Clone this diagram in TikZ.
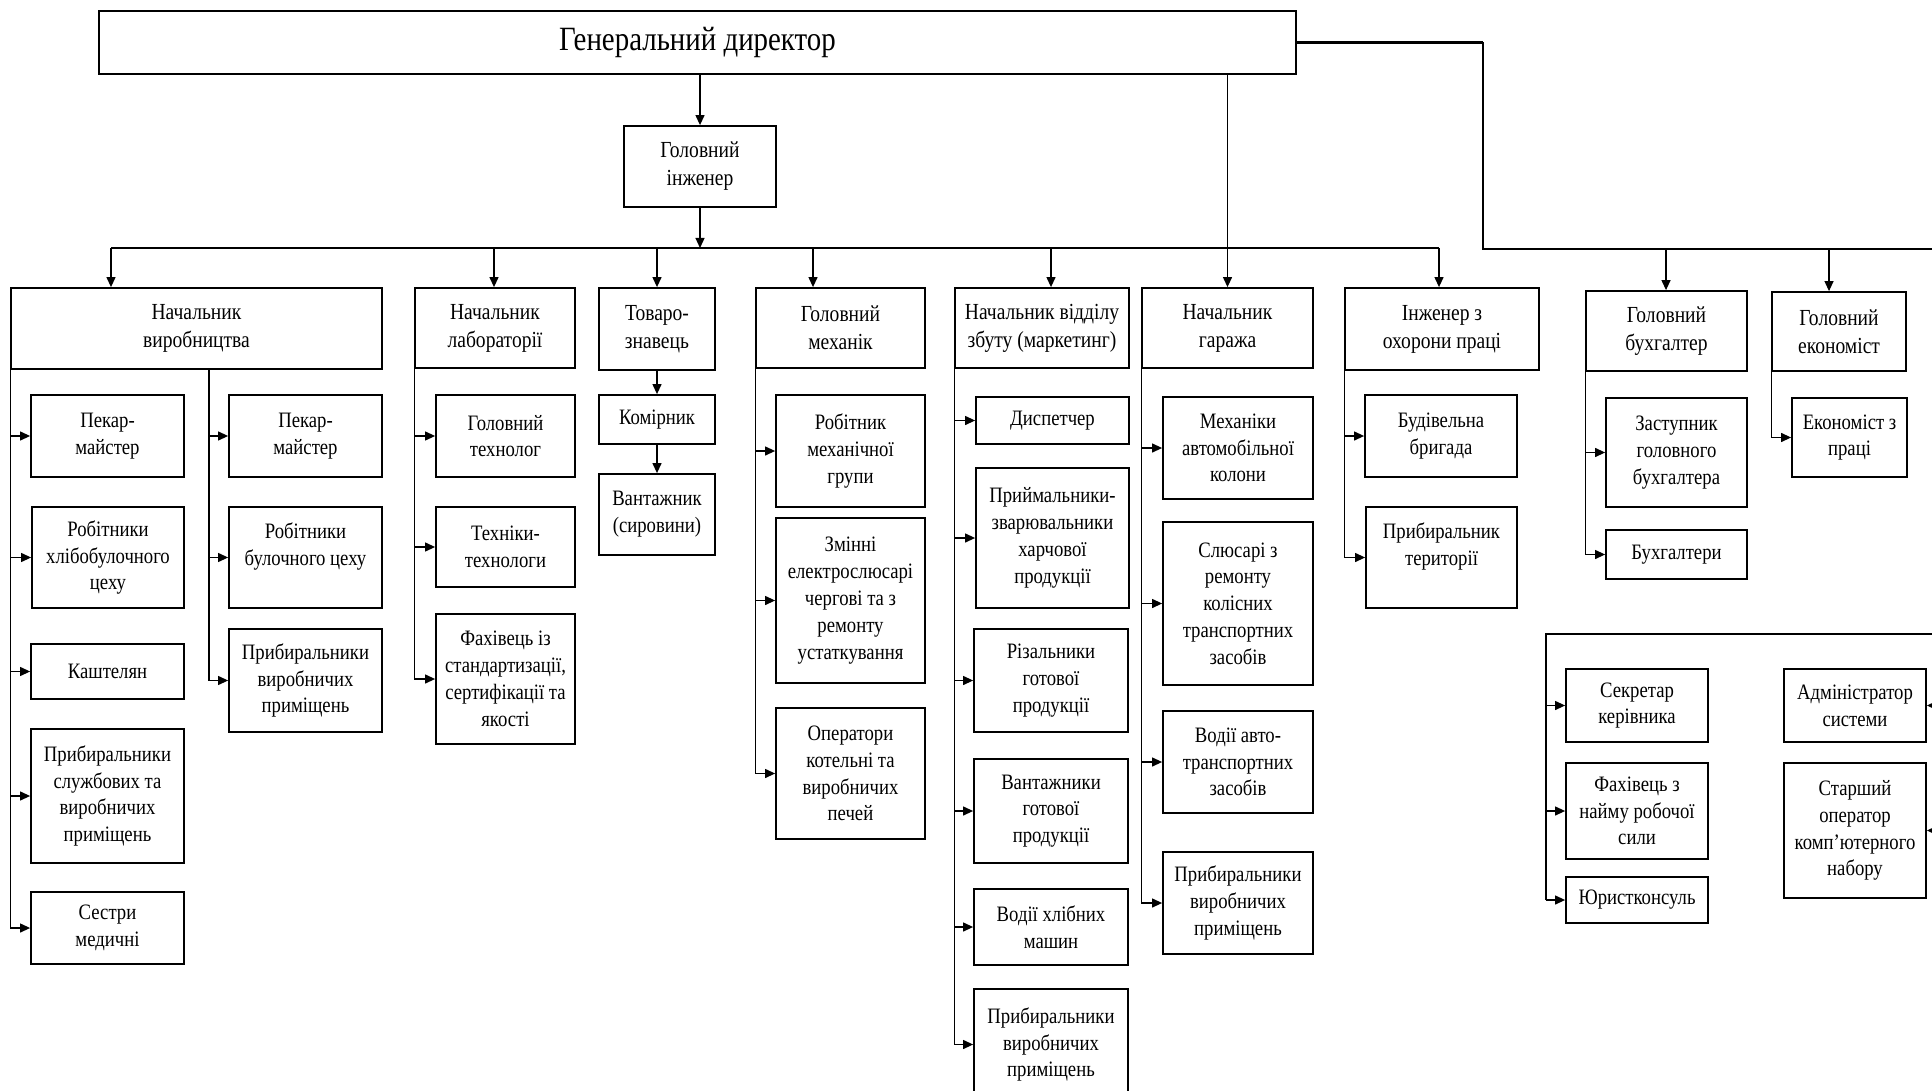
\documentclass[tikz,border=0pt]{standalone}
\usepackage{fontspec}
\setmainfont{Liberation Serif}[FakeStretch=0.85]
\usetikzlibrary{arrows.meta}
\newcommand\fsub{\fontsize{11}{13.4}\selectfont}
\newcommand\fone{\fontsize{11.5}{14}\selectfont}
\newcommand\ftop{\fontsize{17}{20}\selectfont}
\tikzset{
  box/.style={draw, line width=0.9pt, align=center, inner sep=0pt, font=\fsub},
  topbox/.style={box, font=\fone},
  rect/.style n args={4}{minimum width={((#3)-(#1))*0.5pt}, minimum height={((#4)-(#2))*0.5pt},
     at={({((#1)+(#3))/2},{((#2)+(#4))/2})}},
  conn/.style={line width=0.6pt},
  arr/.style={conn, -{Triangle[length=5pt,width=4.5pt]}},
  busline/.style={line width=1.2pt},
}
\begin{document}
\begin{tikzpicture}[x=0.5pt,y=-0.5pt]
\fill[white] (0,0) rectangle (1932,1091);
\useasboundingbox (0,0) rectangle (1932,1091);

% top level
\node[box, font=\ftop, rect={99}{11}{1296}{74}] (gd) {Генеральний директор};
\node[topbox, rect={624}{126}{776}{207}] (gi) {Головний\\інженер};

% level 1
\node[topbox, rect={11}{288}{382}{369}] (n1) {Начальник\\виробництва};
\node[topbox, rect={415}{288}{575}{368}] (n2) {Начальник\\лабораторії};
\node[topbox, rect={599}{288}{715}{370}] (n3) {Товаро-\\знавець};
\node[topbox, rect={756}{288}{925}{368}] (n4) {Головний\\механік};
\node[topbox, rect={955}{288}{1129}{368}] (n5) {Начальник відділу\\збуту (маркетинг)};
\node[topbox, rect={1142}{288}{1313}{368}] (n6) {Начальник\\гаража};
\node[topbox, rect={1345}{288}{1539}{370}] (n7) {Інженер з\\охорони праці};
\node[topbox, rect={1586}{291}{1747}{371}] (n8) {Головний\\бухгалтер};
\node[topbox, rect={1772}{292}{1906}{371}] (n9) {Головний\\економіст};

% column n1 (left)
\node[box, rect={31}{395}{184}{477}] (a1) {Пекар-\\майстер};
\node[box, rect={32}{507}{184}{608}] (a2) {Робітники\\хлібобулочного\\цеху};
\node[box, rect={31}{644}{184}{699}] (a3) {Каштелян};
\node[box, rect={31}{729}{184}{863}] (a4) {Прибиральники\\службових та\\виробничих\\приміщень};
\node[box, rect={31}{892}{184}{964}] (a5) {Сестри\\медичні};
% column n1 (right)
\node[box, rect={229}{395}{382}{477}] (b1) {Пекар-\\майстер};
\node[box, rect={229}{507}{382}{608}] (b2) {Робітники\\булочного цеху\\\mbox{}};
\node[box, rect={229}{629}{382}{732}] (b3) {Прибиральники\\виробничих\\приміщень};
% column n2
\node[box, rect={436}{395}{575}{477}] (c1) {Головний\\технолог};
\node[box, rect={436}{507}{575}{587}] (c2) {Техніки-\\технологи};
\node[box, rect={436}{614}{575}{744}] (c3) {Фахівець із\\стандартизації,\\сертифікації та\\якості};
% column n3
\node[box, rect={599}{395}{715}{444}] (d1) {Комірник};
\node[box, rect={599}{474}{715}{555}] (d2) {Вантажник\\(сировини)};
% column n4
\node[box, rect={776}{395}{925}{507}] (e1) {Робітник\\механічної\\групи};
\node[box, rect={776}{518}{925}{683}] (e2) {Змінні\\електрослюсарі\\чергові та з\\ремонту\\устаткування};
\node[box, rect={776}{708}{925}{839}] (e3) {Оператори\\котельні та\\виробничих\\печей};
% column n5
\node[box, rect={976}{397}{1129}{444}] (f1) {Диспетчер};
\node[box, rect={976}{468}{1129}{608}] (f2) {Приймальники-\\зварювальники\\харчової\\продукції};
\node[box, rect={974}{629}{1128}{732}] (f3) {Різальники\\готової\\продукції};
\node[box, rect={974}{759}{1128}{863}] (f4) {Вантажники\\готової\\продукції};
\node[box, rect={974}{889}{1128}{965}] (f5) {Водії хлібних\\машин};
\node[box, rect={974}{989}{1128}{1100}] (f6) {Прибиральники\\виробничих\\приміщень};
% column n6
\node[box, rect={1163}{397}{1313}{499}] (g1) {Механіки\\автомобільної\\колони};
\node[box, rect={1163}{522}{1313}{685}] (g2) {Слюсарі з\\ремонту\\колісних\\транспортних\\засобів};
\node[box, rect={1163}{711}{1313}{813}] (g3) {Водії авто-\\транспортних\\засобів};
\node[box, rect={1163}{852}{1313}{954}] (g4) {Прибиральники\\виробничих\\приміщень};
% column n7
\node[box, rect={1365}{395}{1517}{477}] (h1) {Будівельна\\бригада};
\node[box, rect={1366}{507}{1517}{608}] (h2) {Прибиральник\\території\\\mbox{}};
% column n8
\node[box, rect={1606}{398}{1747}{507}] (i1) {Заступник\\головного\\бухгалтера};
\node[box, rect={1606}{530}{1747}{579}] (i2) {Бухгалтери};
% column n9
\node[box, rect={1792}{398}{1907}{477}] (j1) {Економіст з\\праці};
% bottom right group
\node[box, rect={1566}{669}{1708}{742}] (k1) {Секретар\\керівника};
\node[box, rect={1566}{763}{1708}{859}] (k2) {Фахівець з\\найму робочої\\сили};
\node[box, rect={1566}{877}{1708}{923}] (k3) {Юристконсуль};
\node[box, rect={1784}{669}{1926}{742}] (l1) {Адміністратор\\системи};
\node[box, rect={1784}{763}{1926}{898}] (l2) {Старший\\оператор\\комп’ютерного\\набору};

% ---- connectors from the top
\draw[arr] (gd.south -| gi.north) -- (gi.north);
\coordinate (t1) at (111,248);
\coordinate (t2) at (494,248);
\coordinate (t3) at (657,248);
\coordinate (t4) at (813,248);
\coordinate (t5) at (1051,248);
\coordinate (t7) at (1439,248);
\draw[busline] (t1) -- (t7);
\draw[arr] (gi.south) -- (gi.south |- t1);
\foreach \t/\n in {t1/n1,t2/n2,t3/n3,t4/n4,t5/n5,t7/n7}
  \draw[arr] (\t) -- (\t |- \n.north);
\draw[arr] (gd.south -| n6.north) -- (n6.north);

\coordinate (rc) at (1483,249);
\coordinate (re) at (1950,249);
\coordinate (u8) at (1666,249);
\coordinate (u9) at (1829,249);
\draw[busline] (gd.east) -- (gd.east -| rc);
\draw[conn] (gd.east -| rc) -- (rc) -- (re);
\draw[arr] (u8) -- (u8 |- n8.north);
\draw[arr] (u9) -- (u9 |- n9.north);

% ---- column spines
\draw[conn] (n1.south west) -- (n1.south west |- a5.west);
\foreach \c in {a1,a2,a3,a4,a5} \draw[arr] (n1.south west |- \c.west) -- (\c.west);
\coordinate (s1) at (209,369);
\draw[conn] (s1) -- (s1 |- b3.west);
\foreach \c in {b1,b2,b3} \draw[arr] (s1 |- \c.west) -- (\c.west);
\draw[conn] (n2.south west) -- (n2.south west |- c3.west);
\foreach \c in {c1,c2,c3} \draw[arr] (n2.south west |- \c.west) -- (\c.west);
\draw[arr] (n3.south) -- (d1.north);
\draw[arr] (d1.south) -- (d2.north);
\draw[conn] (n4.south west) -- (n4.south west |- e3.west);
\foreach \c in {e1,e2,e3} \draw[arr] (n4.south west |- \c.west) -- (\c.west);
\draw[conn] (n5.south west) -- (n5.south west |- f6.west);
\foreach \c in {f1,f2,f3,f4,f5,f6} \draw[arr] (n5.south west |- \c.west) -- (\c.west);
\draw[conn] (n6.south west) -- (n6.south west |- g4.west);
\foreach \c in {g1,g2,g3,g4} \draw[arr] (n6.south west |- \c.west) -- (\c.west);
\draw[conn] (n7.south west) -- (n7.south west |- h2.west);
\foreach \c in {h1,h2} \draw[arr] (n7.south west |- \c.west) -- (\c.west);
\draw[conn] (n8.south west) -- (n8.south west |- i2.west);
\foreach \c in {i1,i2} \draw[arr] (n8.south west |- \c.west) -- (\c.west);
\draw[conn] (n9.south west) -- (n9.south west |- j1.west);
\draw[arr] (n9.south west |- j1.west) -- (j1.west);

% ---- bottom right group
\coordinate (kt) at (1546,634);
\coordinate (rt) at (1950,634);
\draw[conn] (kt |- k3.west) -- (kt) -- (rt) -- (rt |- l2.east);
\foreach \c in {k1,k2,k3} \draw[arr] (kt |- \c.west) -- (\c.west);
\foreach \c in {l1,l2} \draw[arr] (rt |- \c.east) -- (\c.east);
\end{tikzpicture}
\end{document}
